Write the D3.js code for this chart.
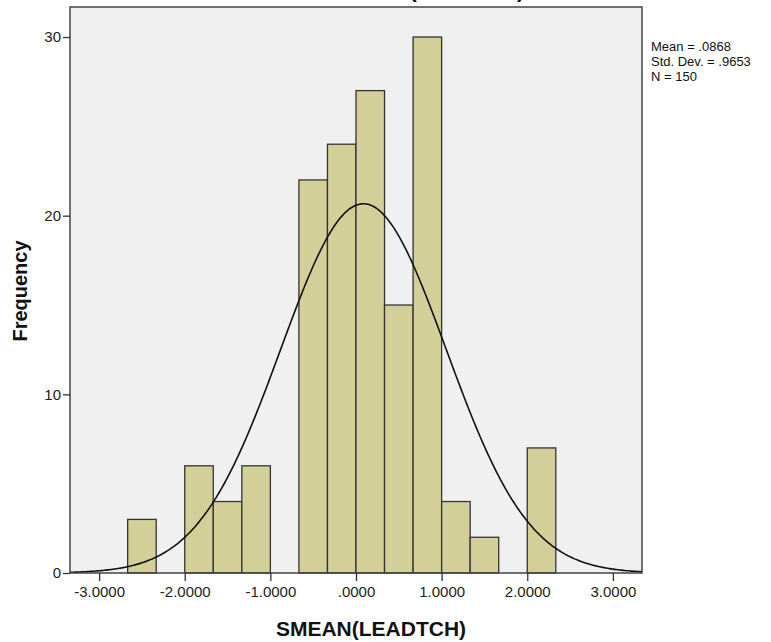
<!DOCTYPE html>
<html>
<head>
<meta charset="utf-8">
<script src="https://cdn.jsdelivr.net/npm/d3@7"></script>
<style>
  body { margin: 0; background: #ffffff; }
  svg { display: block; font-family: "Liberation Sans", Arial, sans-serif; }
</style>
</head>
<body>
<div id="chart"></div>
<script>
// Histogram bins (lower / upper edge) and counts
const binLow  = [-2.6667, -2.0000, -1.6667, -1.3333, -0.6667, -0.3333, 0.0000, 0.3333, 0.6667, 1.0000, 1.3333, 2.0000];
const binHigh = [-2.3333, -1.6667, -1.3333, -1.0000, -0.3333, 0.0000, 0.3333, 0.6667, 1.0000, 1.3333, 1.6667, 2.3333];
const counts  = [3, 6, 4, 6, 22, 24, 27, 15, 30, 4, 2, 7];

// Tick labels
const xTicks = [-3, -2, -1, 0, 1, 2, 3];
const xTickLabels = ["-3.0000", "-2.0000", "-1.0000", ".0000", "1.0000", "2.0000", "3.0000"];
const yTicks = [0, 10, 20, 30];

// Summary statistics
const mean = 0.0868;
const stdDev = 0.9653;
const n = 150;
const statLines = ["Mean = .0868", "Std. Dev. = .9653", "N = 150"];

const W = 771, H = 642;
const plot = { left: 70, right: 642, top: 7, bottom: 573 };

const svg = d3.select('#chart').append('svg')
  .attr('width', W)
  .attr('height', H);

const x = d3.scaleLinear().domain([-3.34, 3.34]).range([plot.left, plot.right]);
const y = d3.scaleLinear().domain([0, 31.68]).range([plot.bottom, plot.top]);

// Title (cut off at the top edge, as in the picture)
svg.append('text')
  .attr('x', 524)
  .attr('y', -2)
  .attr('text-anchor', 'end')
  .attr('font-weight', 'bold')
  .attr('font-size', 21)
  .attr('fill', '#000')
  .text('SMEAN(LEADTCH)');

// Plot background
svg.append('rect')
  .attr('x', plot.left)
  .attr('y', plot.top)
  .attr('width', plot.right - plot.left)
  .attr('height', plot.bottom - plot.top)
  .attr('fill', '#f0f0f0');

// Bars
const bins = counts.map((c, i) => ({ lo: binLow[i], hi: binHigh[i], c }));
svg.append('g')
  .selectAll('rect')
  .data(bins)
  .join('rect')
  .attr('x', d => x(d.lo))
  .attr('y', d => y(d.c))
  .attr('width', d => x(d.hi) - x(d.lo))
  .attr('height', d => y(0) - y(d.c))
  .attr('fill', '#d3cf98')
  .attr('stroke', '#333')
  .attr('stroke-width', 1.3);

// Normal curve
const binWidth = binHigh[0] - binLow[0];
const pdf = v => Math.exp(-0.5 * Math.pow((v - mean) / stdDev, 2)) / (stdDev * Math.sqrt(2 * Math.PI));
const curveX = d3.range(-3.34, 3.341, 0.02);
const line = d3.line()
  .x(d => x(d))
  .y(d => y(n * binWidth * pdf(d)))
  .curve(d3.curveBasis);
svg.append('path')
  .datum(curveX)
  .attr('d', line)
  .attr('fill', 'none')
  .attr('stroke', '#111')
  .attr('stroke-width', 1.6);

// Frame
svg.append('rect')
  .attr('x', plot.left)
  .attr('y', plot.top)
  .attr('width', plot.right - plot.left)
  .attr('height', plot.bottom - plot.top)
  .attr('fill', 'none')
  .attr('stroke', '#444')
  .attr('stroke-width', 1.5);

// X axis
const xAxis = d3.axisBottom(x)
  .tickValues(xTicks)
  .tickFormat((d, i) => xTickLabels[i])
  .tickSize(8)
  .tickPadding(5);
const gx = svg.append('g')
  .attr('transform', `translate(0,${plot.bottom})`)
  .call(xAxis);
gx.select('.domain').remove();
gx.selectAll('line').attr('stroke', '#333').attr('stroke-width', 1.3);
gx.selectAll('text').attr('font-size', 15).attr('fill', '#222')
  .style('font-family', '"Liberation Sans", Arial, sans-serif');

// Y axis
const yAxis = d3.axisLeft(y)
  .tickValues(yTicks)
  .tickSize(7)
  .tickPadding(2);
const gy = svg.append('g')
  .attr('transform', `translate(${plot.left},0)`)
  .call(yAxis);
gy.select('.domain').remove();
gy.selectAll('line').attr('stroke', '#333').attr('stroke-width', 1.3);
gy.selectAll('text').attr('font-size', 15).attr('fill', '#222')
  .style('font-family', '"Liberation Sans", Arial, sans-serif');

// Axis titles
svg.append('text')
  .attr('x', 371)
  .attr('y', 636)
  .attr('text-anchor', 'middle')
  .attr('font-weight', 'bold')
  .attr('font-size', 21)
  .attr('fill', '#111')
  .text('SMEAN(LEADTCH)');

svg.append('text')
  .attr('transform', 'translate(27,291) rotate(-90)')
  .attr('text-anchor', 'middle')
  .attr('font-weight', 'bold')
  .attr('font-size', 20)
  .attr('fill', '#111')
  .text('Frequency');

// Statistics box
svg.append('g')
  .selectAll('text')
  .data(statLines)
  .join('text')
  .attr('x', 651)
  .attr('y', (d, i) => 51 + i * 15)
  .attr('font-size', 13)
  .attr('fill', '#111')
  .text(d => d);
</script>
</body>
</html>
